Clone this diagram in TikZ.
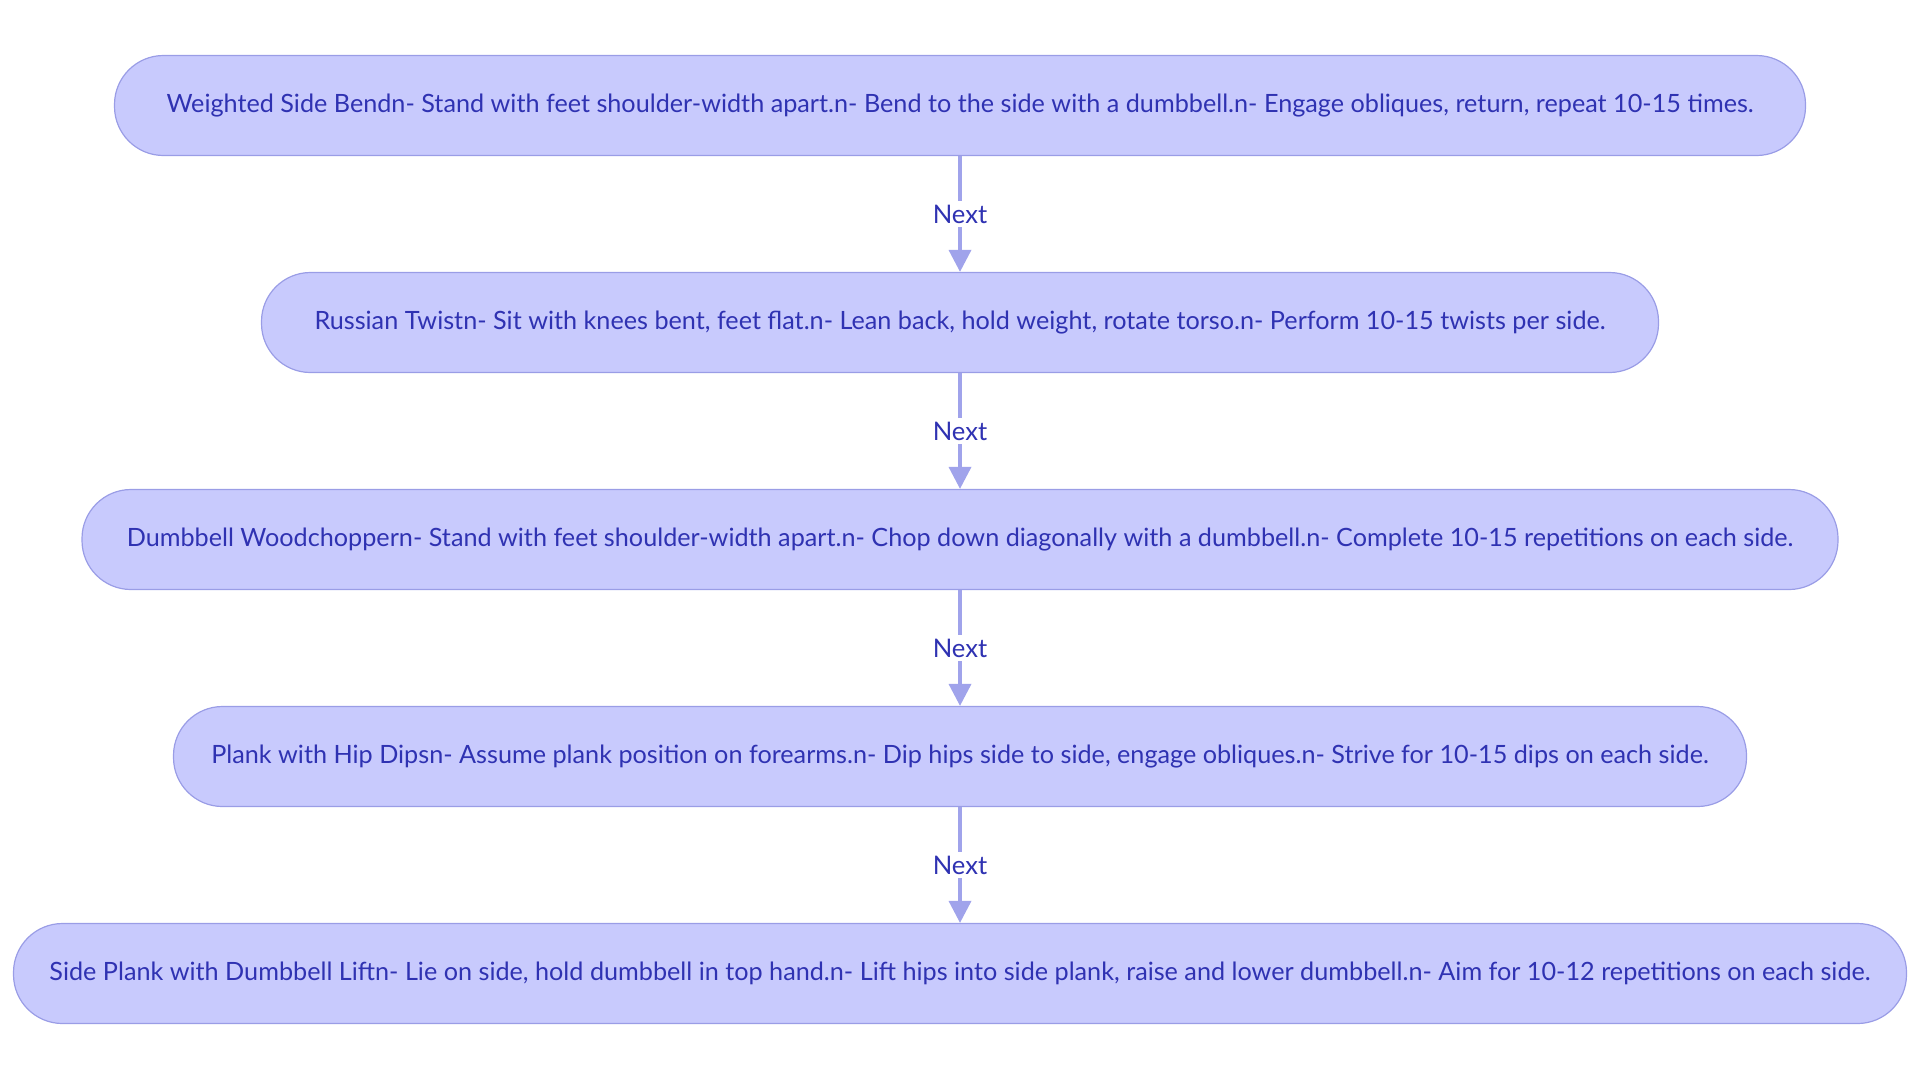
\documentclass[tikz,border=0pt]{standalone}
\usepackage{fontspec}
\setmainfont{Lato}
\usetikzlibrary{arrows.meta}
\definecolor{boxfill}{HTML}{C8CAFD}
\definecolor{boxline}{HTML}{9A9DE6}
\definecolor{txt}{HTML}{2F32B2}
\definecolor{edge}{HTML}{A0A3EB}
\tikzset{
  stepbox/.style={draw=boxline, line width=0.6pt, fill=boxfill, rounded corners=24.5pt,
    minimum height=50pt, inner sep=0pt, text=txt, font=\fontsize{12.6pt}{15pt}\selectfont},
  flow/.style={draw=edge, line width=1.8pt, -{Triangle[length=11pt,width=11pt]}},
  lbl/.style={fill=white, text=txt, font=\fontsize{12.8pt}{15pt}\selectfont, inner sep=2pt}
}
\begin{document}
\begin{tikzpicture}[x=0.5pt,y=-0.5pt]
\useasboundingbox (0,0) rectangle (1920,1083);
\node[stepbox, minimum width=845.5pt] (a) at (960,105.5) {Weighted Side Bendn- Stand with feet shoulder-width apart.n- Bend to the side with a dumbbell.n- Engage obliques, return, repeat 10-15 times.};
\node[stepbox, minimum width=698.5pt] (b) at (960,322.5) {Russian Twistn- Sit with knees bent, feet flat.n- Lean back, hold weight, rotate torso.n- Perform 10-15 twists per side.};
\node[stepbox, minimum width=878pt] (c) at (960,539.5) {Dumbbell Woodchoppern- Stand with feet shoulder-width apart.n- Chop down diagonally with a dumbbell.n- Complete 10-15 repetitions on each side.};
\node[stepbox, minimum width=786.5pt] (d) at (960,756.5) {Plank with Hip Dipsn- Assume plank position on forearms.n- Dip hips side to side, engage obliques.n- Strive for 10-15 dips on each side.};
\node[stepbox, minimum width=946.5pt] (e) at (960,973.5) {Side Plank with Dumbbell Liftn- Lie on side, hold dumbbell in top hand.n- Lift hips into side plank, raise and lower dumbbell.n- Aim for 10-12 repetitions on each side.};
\draw[flow] (a) -- node[lbl] {Next} (b);
\draw[flow] (b) -- node[lbl] {Next} (c);
\draw[flow] (c) -- node[lbl] {Next} (d);
\draw[flow] (d) -- node[lbl] {Next} (e);
\end{tikzpicture}
\end{document}
